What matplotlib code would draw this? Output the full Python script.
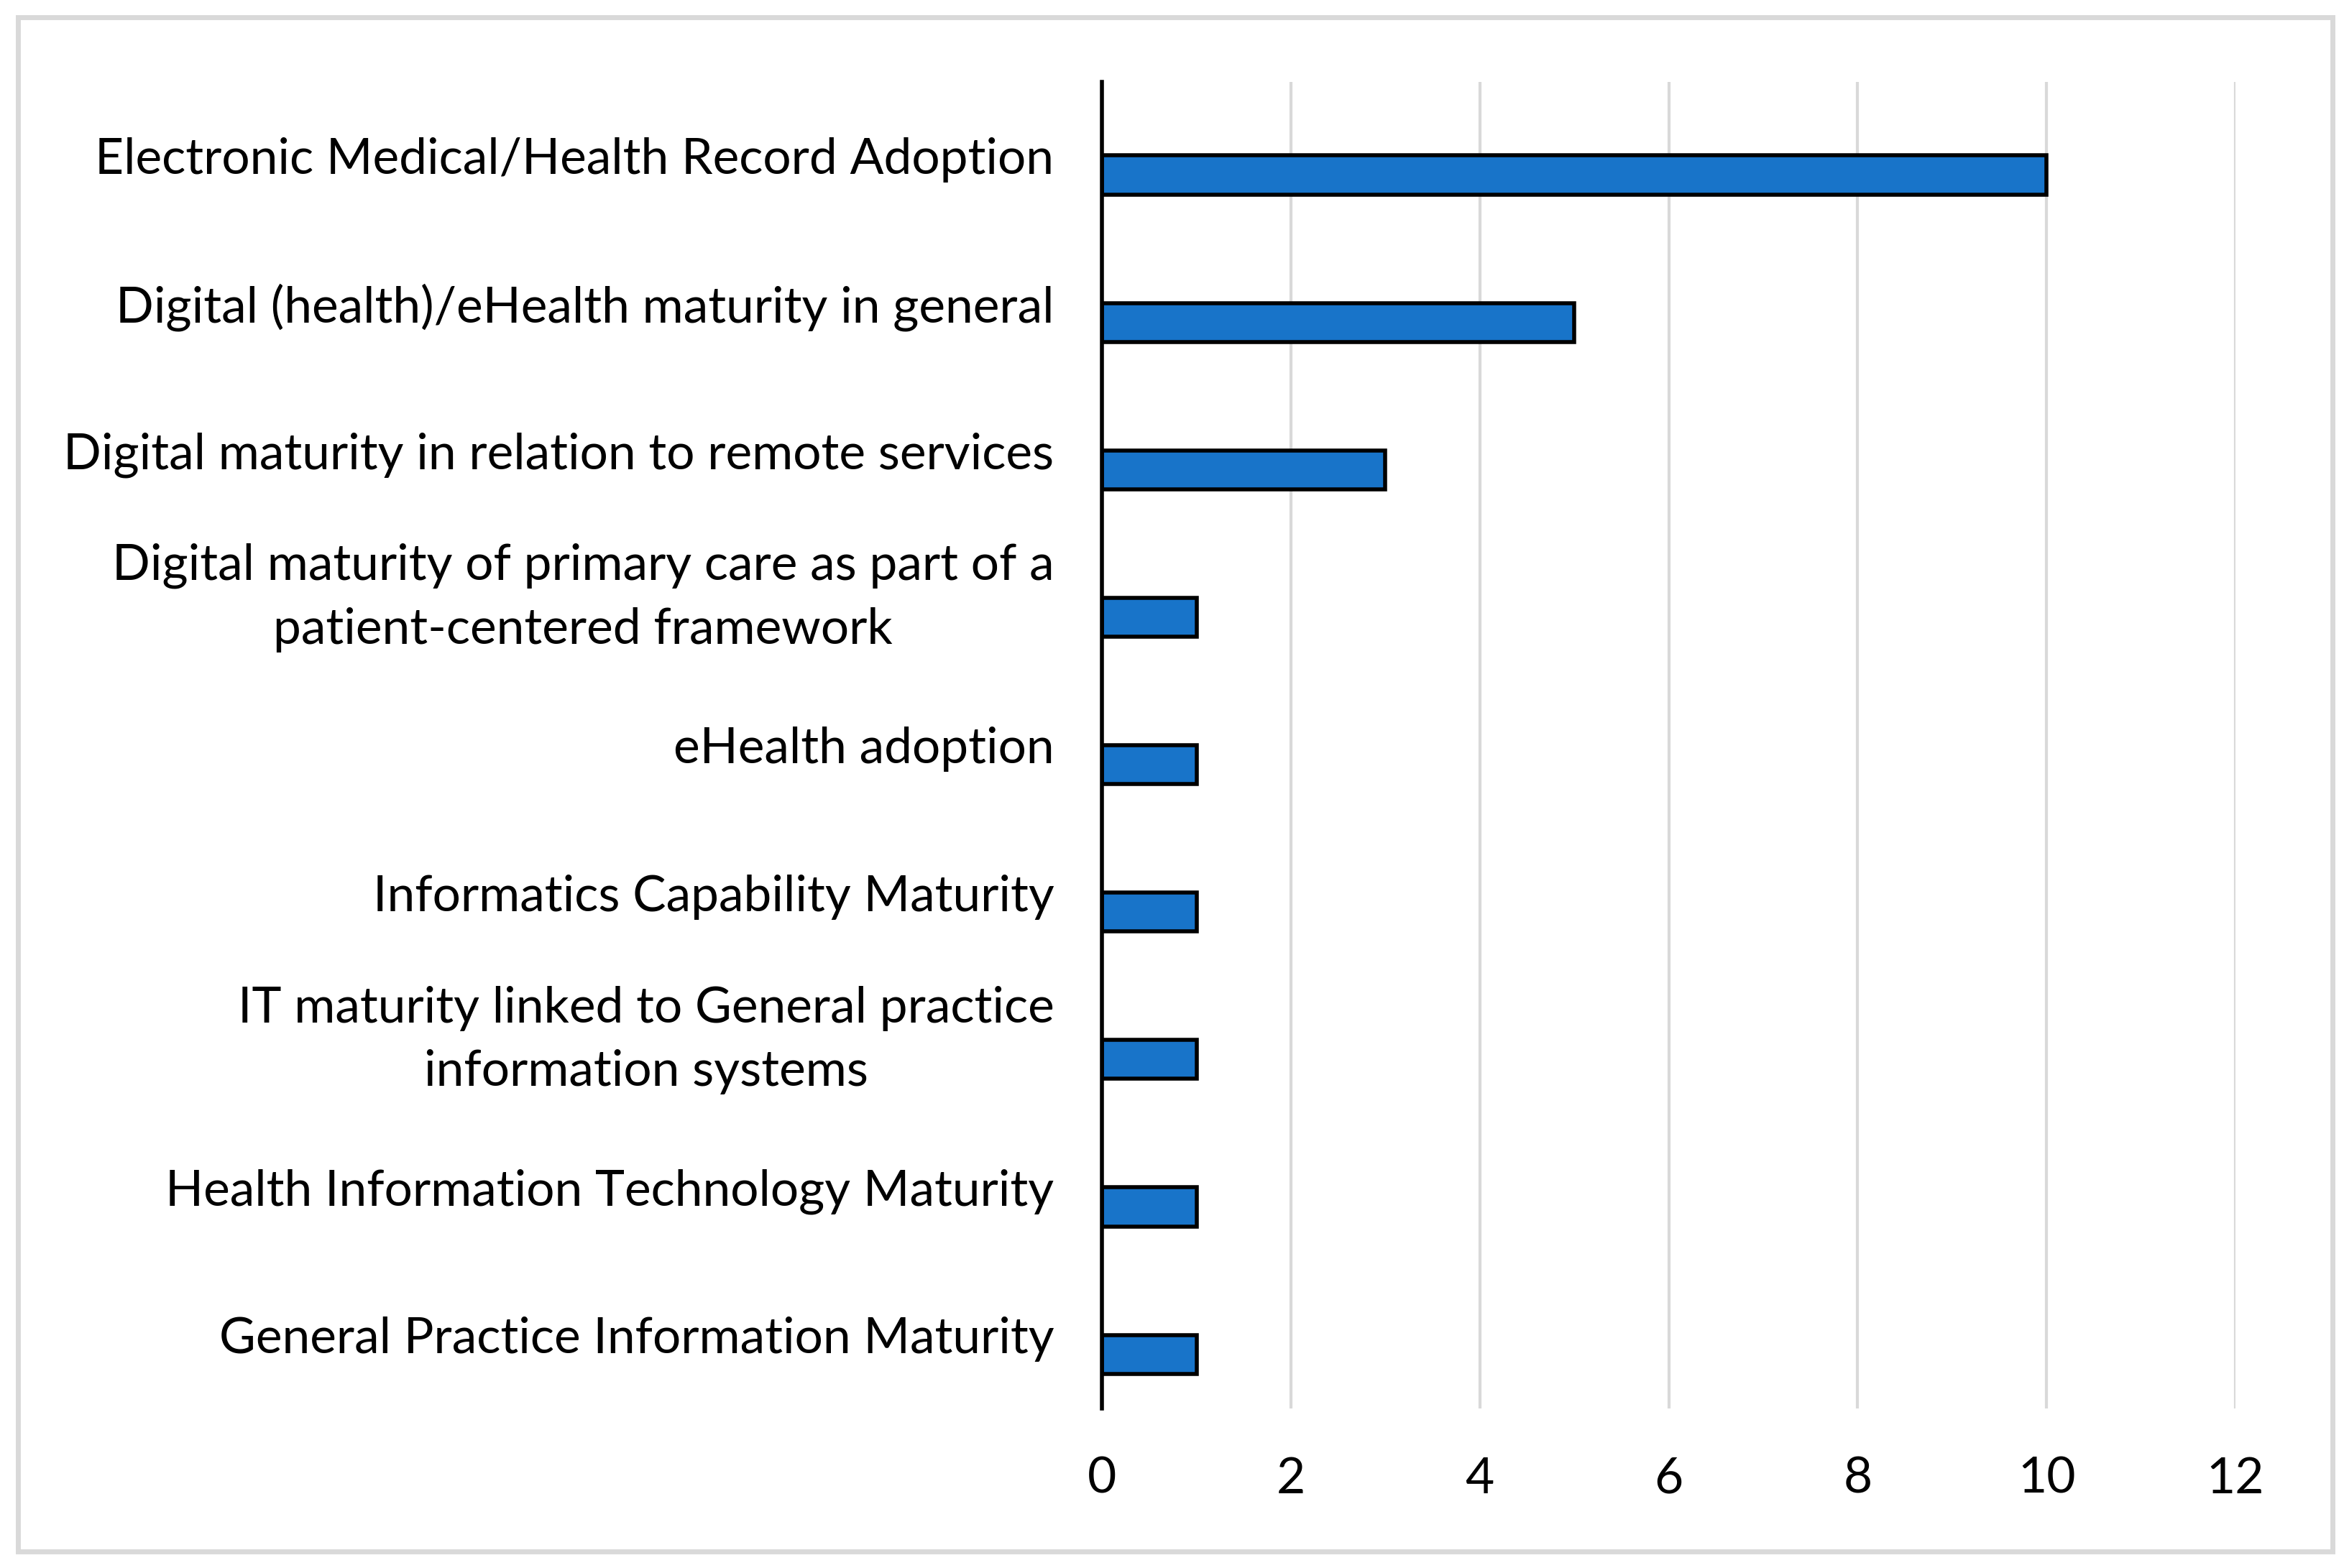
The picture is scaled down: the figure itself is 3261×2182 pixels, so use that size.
import matplotlib
matplotlib.use('Agg')
import matplotlib.pyplot as plt
from matplotlib.patches import Rectangle


categories = [
    'Electronic Medical/Health Record Adoption',
    'Digital (health)/eHealth maturity in general',
    'Digital maturity in relation to remote services',
    'Digital maturity of primary care as part of a\npatient-centered framework',
    'eHealth adoption',
    'Informatics Capability Maturity',
    'IT maturity linked to General practice\ninformation systems',
    'Health Information Technology Maturity',
    'General Practice Information Maturity',
]
counts = [10, 5, 3, 1, 1, 1, 1, 1, 1]
x_ticks = [0, 2, 4, 6, 8, 10, 12]

BAR_COLOR = '#1874C9'
GRID_COLOR = '#D9D9D9'
FONT = 'Lato'
FONT_SIZE = 50

plt.rcParams['font.family'] = [FONT, 'DejaVu Sans']

fig = plt.figure(figsize=(32.62, 21.82), dpi=100)
ax = fig.add_axes([0.470, 0.1017, 0.4834, 0.8461])

positions = list(range(len(categories)))
# bar sits a bit below the category centre, like the second series of an Excel cluster
ax.barh([p + 0.132 for p in positions], counts, height=0.264,
        color=BAR_COLOR, edgecolor='black', linewidth=4, zorder=3)

ax.set_ylim(len(categories) - 0.5, -0.5)
ax.set_xlim(0, 12)
ax.set_yticks(positions)
ax.set_yticklabels(categories, fontsize=FONT_SIZE, multialignment='center',
                   linespacing=1.5)
for label in ax.get_yticklabels():
    if '\n' in label.get_text():
        label.set_va('center')
ax.set_xticks(x_ticks)
ax.set_xticklabels([str(t) for t in x_ticks], fontsize=FONT_SIZE)
ax.tick_params(axis='both', length=0)
ax.tick_params(axis='y', pad=48)
ax.tick_params(axis='x', pad=48)

ax.grid(axis='x', color=GRID_COLOR, linewidth=3, zorder=0)
for name in ['top', 'right', 'bottom']:
    ax.spines[name].set_visible(False)
ax.spines['left'].set_linewidth(4)
ax.spines['left'].set_zorder(4)

# light grey frame round the whole chart
fig.patches.append(Rectangle((25 / 3262, 23 / 2182), 3220 / 3262, 2135 / 2182,
                             transform=fig.transFigure, fill=False,
                             edgecolor=GRID_COLOR, linewidth=5))

fig.savefig('out.png', dpi=100)
